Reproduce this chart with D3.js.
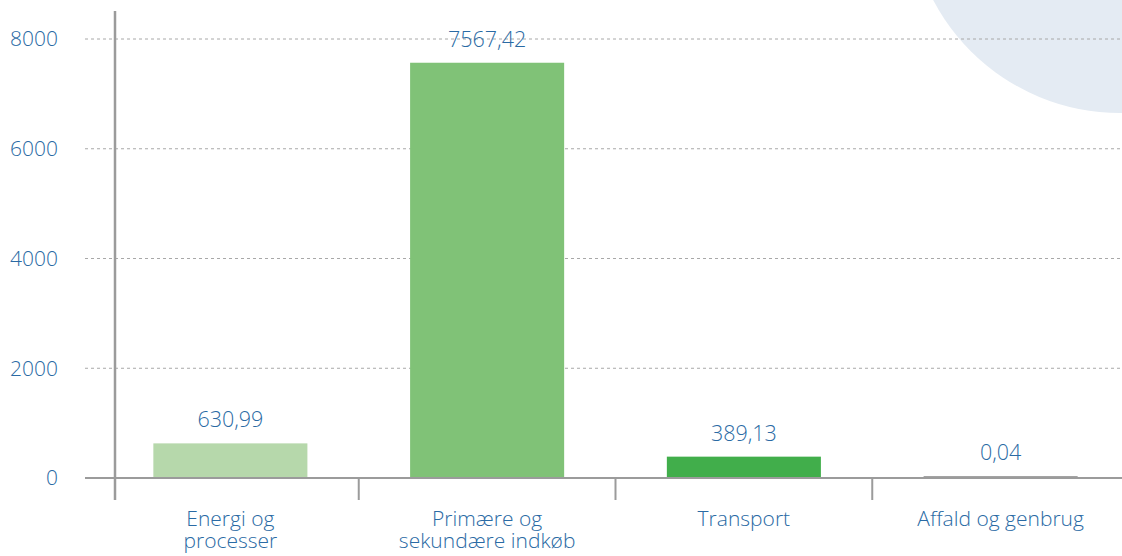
<!DOCTYPE html>
<html><head><meta charset="utf-8">
<script src="https://cdn.jsdelivr.net/npm/d3@7"></script>
<style>
html,body{margin:0;padding:0;background:#fff;}
svg{display:block;font-family:"Open Sans",sans-serif;font-weight:300;}
</style></head>
<body><svg id="c" width="1122" height="556"></svg>
<script>
const categories = [["Energi og","processer"],["Primære og","sekundære indkøb"],["Transport"],["Affald og genbrug"]];
const values = [630.99, 7567.42, 389.13, 0.04];
const valueLabels = ["630,99","7567,42","389,13","0,04"];
const colors = ["#b6d8ab","#80c277","#41ae4b","#a3a3a3"];
const yTicks = [0, 2000, 4000, 6000, 8000];

const svg = d3.select("#c");
const W = 1122, H = 556;
const textColor = "#2a6aa4";

// decorative circle
svg.append("circle").attr("cx", 1120).attr("cy", -98).attr("r", 211).attr("fill", "#e4ebf3");

const x = d3.scaleBand().domain(d3.range(values.length)).range([102, 1129]).paddingInner(0.4).paddingOuter(0.2);
const step = x.step();
const y = d3.scaleLinear().domain([0, 8000]).range([478, 39]);

// gridlines
svg.append("g").selectAll("line").data(yTicks.filter(d => d > 0)).join("line")
  .attr("x1", 85).attr("x2", W).attr("y1", d => y(d)).attr("y2", d => y(d))
  .attr("stroke", "#a8a8a8").attr("stroke-width", 1).attr("stroke-dasharray", "3,3");

// y tick labels
svg.append("g").selectAll("text").data(yTicks).join("text")
  .attr("x", 58).attr("y", d => y(d)).attr("dy", "0.35em")
  .attr("text-anchor", "end").attr("fill", textColor).attr("font-size", 21)
  .text(d => d);

// bars
svg.append("g").selectAll("rect").data(values).join("rect")
  .attr("x", (d, i) => x(i)).attr("width", x.bandwidth())
  .attr("y", d => Math.min(y(d), y(0) - 2)).attr("height", d => Math.max(y(0) - y(d), 2))
  .attr("fill", (d, i) => colors[i]);

// zero line
svg.append("line").attr("x1", 85).attr("x2", W).attr("y1", y(0)).attr("y2", y(0))
  .attr("stroke", "#9b9b9b").attr("stroke-width", 2);

// y axis line
svg.append("line").attr("x1", 115).attr("x2", 115).attr("y1", 11).attr("y2", y(0) + 22)
  .attr("stroke", "#9b9b9b").attr("stroke-width", 2.5);

// category boundary ticks
svg.append("g").selectAll("line").data(d3.range(1, values.length)).join("line")
  .attr("x1", i => x(i) - step * x.paddingInner() / 2).attr("x2", i => x(i) - step * x.paddingInner() / 2)
  .attr("y1", y(0)).attr("y2", y(0) + 22)
  .attr("stroke", "#9b9b9b").attr("stroke-width", 2);

// value labels
svg.append("g").selectAll("text").data(values).join("text")
  .attr("x", (d, i) => x(i) + x.bandwidth() / 2).attr("y", d => Math.min(y(d), y(0) - 2) - 16)
  .attr("text-anchor", "middle").attr("fill", textColor).attr("font-size", 21.5)
  .text((d, i) => valueLabels[i]);

// category labels
const cg = svg.append("g").selectAll("text").data(categories).join("text")
  .attr("x", (d, i) => x(i) + x.bandwidth() / 2).attr("y", 526)
  .attr("text-anchor", "middle").attr("fill", textColor).attr("font-size", 21);
cg.selectAll("tspan").data(d => d).join("tspan")
  .attr("x", function() { return d3.select(this.parentNode).attr("x"); })
  .attr("dy", (d, j) => j === 0 ? 0 : 22)
  .text(d => d);
</script></body></html>
